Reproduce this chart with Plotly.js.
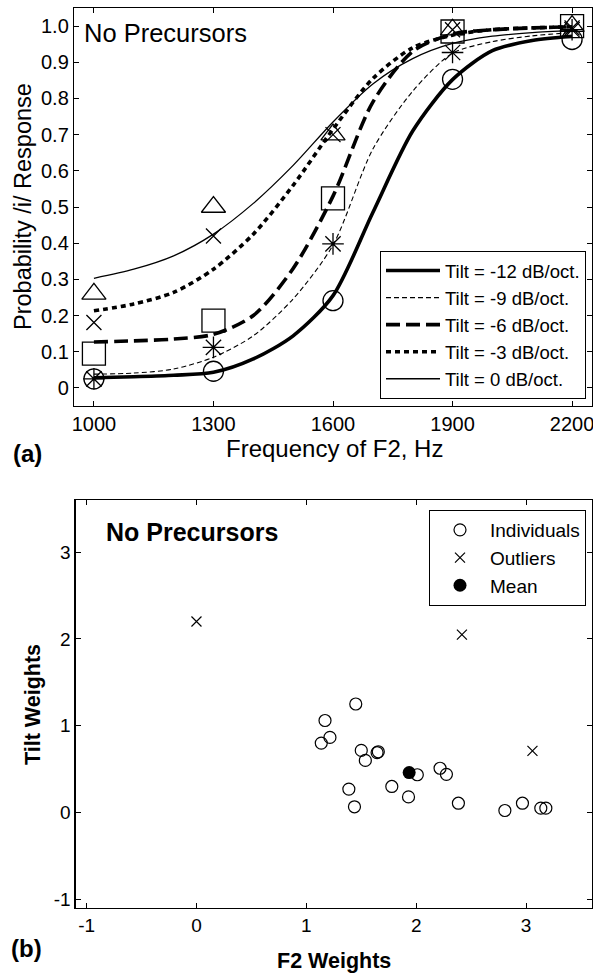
<!DOCTYPE html>
<html>
<head>
<meta charset="utf-8">
<script src="https://cdn.plot.ly/plotly-3.0.1.min.js"></script>
<style>html,body{margin:0;padding:0;background:#fff;}#chart{width:593px;height:973px;}</style>
</head>
<body>
<div id="chart"></div>
<script>
// ---------- Panel (a) data ----------
const freqTicks = [1000, 1300, 1600, 1900, 2200];
const probTickVals = [0, 0.1, 0.2, 0.3, 0.4, 0.5, 0.6, 0.7, 0.8, 0.9, 1.0];
const probTickText = ['0', '0.1', '0.2', '0.3', '0.4', '0.5', '0.6', '0.7', '0.8', '0.9', '1.0'];

// observed points (markers)
const obsFreq = [1000, 1300, 1600, 1900, 2200];
const obsTiltM12 = [0.025, 0.046, 0.241, 0.853, 0.963];
const obsTiltM9 = [0.025, 0.112, 0.398, 0.927, 0.990];
const obsTiltM6 = [0.095, 0.186, 0.524, 0.985, 1.000];
const obsTiltM3 = [0.181, 0.420, 0.700, 0.990, 0.995];
const obsTilt0 = [0.260, 0.500, 0.700, 0.990, 1.000];

// fitted curves
const fitFreq = [1000, 1100, 1200, 1300, 1400, 1500, 1600, 1700, 1800, 1900, 2000, 2100, 2200];
const fitTiltM12 = [0.028, 0.031, 0.035, 0.043, 0.080, 0.144, 0.255, 0.485, 0.710, 0.852, 0.932, 0.960, 0.972];
const fitTiltM9 = [0.038, 0.041, 0.052, 0.085, 0.144, 0.246, 0.395, 0.660, 0.820, 0.925, 0.957, 0.973, 0.982];
const fitTiltM6 = [0.127, 0.130, 0.135, 0.148, 0.200, 0.330, 0.530, 0.790, 0.930, 0.978, 0.990, 0.995, 0.998];
const fitTiltM3 = [0.213, 0.232, 0.264, 0.328, 0.425, 0.560, 0.715, 0.855, 0.940, 0.975, 0.990, 0.995, 0.998];
const fitTilt0 = [0.303, 0.328, 0.365, 0.425, 0.510, 0.615, 0.735, 0.840, 0.910, 0.952, 0.972, 0.982, 0.988];

const tiltNames = ['Tilt = -12 dB/oct.', 'Tilt = -9 dB/oct.', 'Tilt = -6 dB/oct.', 'Tilt = -3 dB/oct.', 'Tilt = 0 dB/oct.'];

// ---------- Panel (b) data ----------
const indF2 = [1.17, 1.45, 1.136, 1.215, 1.50, 1.537, 1.644, 1.655, 1.387, 1.438, 1.778, 1.93, 2.01, 2.217, 2.275, 2.384, 2.807, 2.967, 3.134, 3.18];
const indTilt = [1.06, 1.25, 0.80, 0.865, 0.715, 0.60, 0.69, 0.70, 0.27, 0.066, 0.30, 0.18, 0.435, 0.51, 0.44, 0.107, 0.023, 0.107, 0.05, 0.05];
const outF2 = [0.0, 2.416, 3.058];
const outTilt = [2.2, 2.05, 0.71];
const meanF2 = [1.936];
const meanTilt = [0.46];
const weightTicks = [-1, 0, 1, 2, 3];

const FONT = 'Liberation Sans, Arial, Helvetica, sans-serif';
const W = 593, H = 973;
const px = v => v / W;
const py = v => (H - v) / H;

const fitSets = [fitTiltM12, fitTiltM9, fitTiltM6, fitTiltM3, fitTilt0];
const lineStyles = [
  {color: '#000', width: 3.6, dash: 'solid'},
  {color: '#000', width: 1.1, dash: '5px,3px'},
  {color: '#000', width: 3.6, dash: '14px,6px'},
  {color: '#000', width: 3.6, dash: '5px,4px'},
  {color: '#000', width: 1.3, dash: 'solid'}
];
const obsSets = [obsTiltM12, obsTiltM9, obsTiltM6, obsTiltM3, obsTilt0];
const symbols = ['circle-open', 'asterisk-open', 'square-open', 'x-thin-open', 'triangle-up-open'];
const sizes = [20, 18, 23, 15, 21];

const traces = [];
fitSets.forEach((ys, i) => {
  traces.push({
    x: fitFreq, y: ys, type: 'scatter', mode: 'lines', name: tiltNames[i],
    line: Object.assign({shape: 'spline', smoothing: 0.8}, lineStyles[i]),
    xaxis: 'x', yaxis: 'y', legend: 'legend', hoverinfo: 'skip'
  });
});
obsSets.forEach((ys, i) => {
  traces.push({
    x: obsFreq, y: ys, type: 'scatter', mode: 'markers', showlegend: false,
    marker: {symbol: symbols[i], size: sizes[i], color: '#000', line: {color: '#000', width: 1.3}},
    xaxis: 'x', yaxis: 'y'
  });
});
traces.push({
  x: indF2, y: indTilt, type: 'scatter', mode: 'markers', name: 'Individuals',
  marker: {symbol: 'circle-open', size: 12, color: '#000', line: {color: '#000', width: 1.2}},
  xaxis: 'x2', yaxis: 'y2', legend: 'legend2'
});
traces.push({
  x: outF2, y: outTilt, type: 'scatter', mode: 'markers', name: 'Outliers',
  marker: {symbol: 'x-thin-open', size: 10, color: '#000', line: {color: '#000', width: 1.2}},
  xaxis: 'x2', yaxis: 'y2', legend: 'legend2'
});
traces.push({
  x: meanF2, y: meanTilt, type: 'scatter', mode: 'markers', name: 'Mean',
  marker: {symbol: 'circle', size: 13, color: '#000'},
  xaxis: 'x2', yaxis: 'y2', legend: 'legend2'
});

const axBase = {
  showline: true, mirror: 'ticks', linecolor: '#000', linewidth: 1.2,
  ticks: 'inside', ticklen: 5, tickcolor: '#000', tickwidth: 1,
  showgrid: false, zeroline: false, ticklabeloverflow: 'allow',
  tickfont: {family: FONT, size: 20, color: '#000'}
};

const layout = {
  width: W, height: H,
  margin: {l: 0, r: 0, t: 0, b: 0},
  paper_bgcolor: '#fff', plot_bgcolor: '#fff',
  font: {family: FONT, color: '#000'},
  showlegend: true,
  xaxis: Object.assign({}, axBase, {
    domain: [px(74), px(592)], range: [950, 2250], anchor: 'y',
    tickmode: 'array', tickvals: freqTicks, ticktext: freqTicks.map(String)
  }),
  yaxis: Object.assign({}, axBase, {
    domain: [py(406), py(8)], range: [-0.05, 1.05], anchor: 'x',
    tickmode: 'array', tickvals: probTickVals, ticktext: probTickText
  }),
  xaxis2: Object.assign({}, axBase, {
    domain: [px(75.6), px(592)], range: [-1.1, 3.6], anchor: 'y2',
    tickmode: 'array', tickvals: weightTicks, ticktext: weightTicks.map(String),
    tickfont: {family: FONT, size: 19, color: '#000'}
  }),
  yaxis2: Object.assign({}, axBase, {
    domain: [py(908), py(500)], range: [-1.1, 3.6], anchor: 'x2',
    tickmode: 'array', tickvals: weightTicks, ticktext: weightTicks.map(String),
    tickfont: {family: FONT, size: 19, color: '#000'}
  }),
  legend: {
    x: px(586), xanchor: 'right', y: py(399), yanchor: 'bottom',
    bordercolor: '#000', borderwidth: 1, bgcolor: '#fff',
    font: {family: FONT, size: 18.5, color: '#000'}, tracegroupgap: 0, itemwidth: 54
  },
  legend2: {
    x: px(586), xanchor: 'right', y: py(510), yanchor: 'top',
    bordercolor: '#000', borderwidth: 1, bgcolor: '#fff',
    font: {family: FONT, size: 19, color: '#000'}, tracegroupgap: 0, itemwidth: 50
  },
  annotations: [
    {text: 'No Precursors', xref: 'paper', yref: 'paper', x: px(82), y: py(33), xanchor: 'left', yanchor: 'middle', showarrow: false, font: {family: FONT, size: 25.5, color: '#000'}},
    {text: 'Probability /i/ Response', xref: 'paper', yref: 'paper', x: px(23), y: py(207), xanchor: 'center', yanchor: 'middle', textangle: -90, showarrow: false, font: {family: FONT, size: 23.5, color: '#000'}},
    {text: 'Frequency of F2, Hz', xref: 'paper', yref: 'paper', x: px(334), y: py(449), xanchor: 'center', yanchor: 'middle', showarrow: false, font: {family: FONT, size: 24, color: '#000'}},
    {text: '<b>(a)</b>', xref: 'paper', yref: 'paper', x: px(11), y: py(453), xanchor: 'left', yanchor: 'middle', showarrow: false, font: {family: FONT, size: 24, color: '#000'}},
    {text: '<b>No Precursors</b>', xref: 'paper', yref: 'paper', x: px(104), y: py(532), xanchor: 'left', yanchor: 'middle', showarrow: false, font: {family: FONT, size: 25, color: '#000'}},
    {text: '<b>Tilt Weights</b>', xref: 'paper', yref: 'paper', x: px(33), y: py(705), xanchor: 'center', yanchor: 'middle', textangle: -90, showarrow: false, font: {family: FONT, size: 21.5, color: '#000'}},
    {text: '<b>F2 Weights</b>', xref: 'paper', yref: 'paper', x: px(334), y: py(961), xanchor: 'center', yanchor: 'middle', showarrow: false, font: {family: FONT, size: 21.5, color: '#000'}},
    {text: '<b>(b)</b>', xref: 'paper', yref: 'paper', x: px(9), y: py(948), xanchor: 'left', yanchor: 'middle', showarrow: false, font: {family: FONT, size: 24, color: '#000'}}
  ]
};

Plotly.newPlot('chart', traces, layout, {displayModeBar: false, staticPlot: true});
</script>
</body>
</html>
